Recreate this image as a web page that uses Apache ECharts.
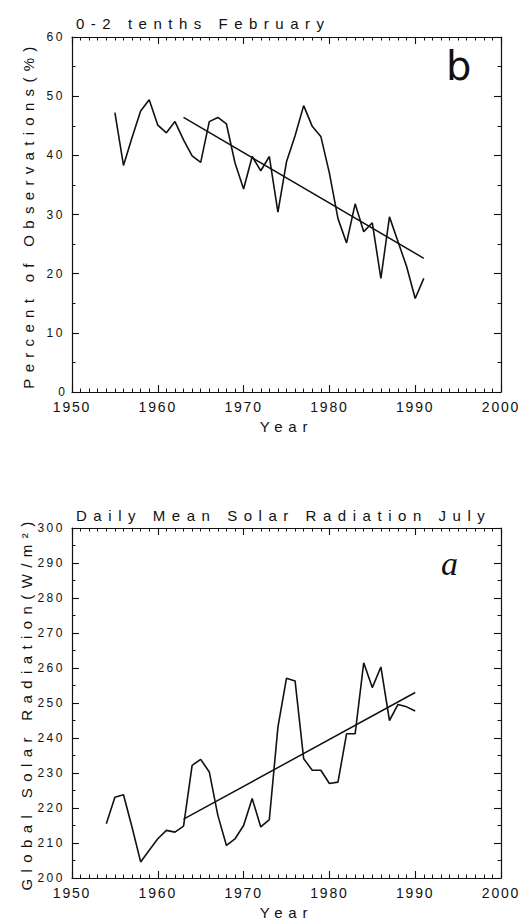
<!DOCTYPE html>
<html><head><meta charset="utf-8">
<script src="https://cdn.jsdelivr.net/npm/echarts@6/dist/echarts.min.js"></script>
<style>html,body{margin:0;padding:0;background:#fff}#c{width:525px;height:920px}</style>
</head><body><div id="c"></div>
<script>
// ---- data ----
const febYears = [1955,1956,1957,1958,1959,1960,1961,1962,1963,1964,1965,1966,1967,1968,1969,1970,1971,1972,1973,1974,1975,1976,1977,1978,1979,1980,1981,1982,1983,1984,1985,1986,1987,1988,1989,1990,1991];
const febPct = [47.2,38.3,43.0,47.5,49.4,45.1,43.8,45.7,42.6,39.9,38.8,45.7,46.4,45.3,38.7,34.3,39.8,37.4,39.8,30.4,38.9,43.3,48.4,44.9,43.2,37.0,29.3,25.2,31.8,27.1,28.6,19.2,29.6,25.4,21.2,15.8,19.2];
const febTrendYears = [1963,1991];
const febTrendPct = [46.4,22.6];

const julYears = [1954,1955,1956,1957,1958,1959,1960,1961,1962,1963,1964,1965,1966,1967,1968,1969,1970,1971,1972,1973,1974,1975,1976,1977,1978,1979,1980,1981,1982,1983,1984,1985,1986,1987,1988,1989,1990];
const julRad = [215.5,223.1,223.8,214.5,204.6,207.9,211.2,213.6,213.1,214.8,232.2,233.9,230.3,217.9,209.3,211.2,215.0,222.7,214.6,216.7,243.1,257.1,256.3,234.1,230.8,230.8,227.0,227.4,241.2,241.2,261.5,254.4,260.3,245.0,249.6,248.9,247.7];
const julTrendYears = [1963,1990];
const julTrendRad = [216.8,253.0];

const yearRange = [1950,2000];
const febRange = [0,60];
const julRange = [200,300];

const titleFeb = '0-2 tenths February';
const titleJul = 'Daily Mean Solar Radiation July';
const yNameFeb = 'Percent of Observations(%)';
const yNameJul = 'Global Solar Radiation(W/m²)';
const xName = 'Year';

// ---- helpers ----
const zip = (xs, ys) => xs.map((x, i) => [x, ys[i]]);
const INK = '#111';
const FONT = 'Liberation Sans';

function xAxis(gi, pos, main) {
  return {
    type: 'value', gridIndex: gi, position: pos,
    min: yearRange[0], max: yearRange[1], interval: 10,
    axisLine: { show: true, onZero: false, lineStyle: { color: INK, width: 1.2 } },
    axisTick: { show: true, inside: true, length: 7, lineStyle: { color: INK, width: 1.1 } },
    minorTick: { show: true, splitNumber: 10, length: 3.5, lineStyle: { color: INK, width: 1 } },
    splitLine: { show: false }, minorSplitLine: { show: false },
    axisLabel: { show: main, margin: 8, color: INK, fontFamily: FONT, fontSize: 14, showMinLabel: true, showMaxLabel: true, hideOverlap: false,
      formatter: v => String(v) },
    name: main ? xName : '', nameLocation: 'middle', nameGap: 27,
    nameTextStyle: { color: INK, fontFamily: FONT, fontSize: 15 },
    silent: true
  };
}
function yAxis(gi, pos, range, main, name) {
  return {
    type: 'value', gridIndex: gi, position: pos,
    min: range[0], max: range[1], interval: 10,
    axisLine: { show: true, onZero: false, lineStyle: { color: INK, width: 1.2 } },
    axisTick: { show: true, inside: true, length: 7, lineStyle: { color: INK, width: 1.1 } },
    minorTick: { show: true, splitNumber: 2, length: 3.5, lineStyle: { color: INK, width: 1 } },
    splitLine: { show: false }, minorSplitLine: { show: false },
    axisLabel: { show: main, margin: 7, color: INK, fontFamily: FONT, fontSize: 12, showMinLabel: true, showMaxLabel: true, hideOverlap: false,
      formatter: v => String(v) },
    name: main ? name : '', nameLocation: 'middle', nameGap: 36,
    nameTextStyle: { color: INK, fontFamily: FONT, fontSize: 15 },
    silent: true
  };
}
function lineSeries(xi, yi, data, w) {
  return { type: 'line', xAxisIndex: xi, yAxisIndex: yi, data: data, symbol: 'none', silent: true,
    lineStyle: { color: INK, width: w }, z: 3 };
}

const option = {
  animation: false,
  backgroundColor: '#fff',
  title: [
    { text: titleFeb, left: 71, top: 11, textStyle: { color: INK, fontFamily: FONT, fontSize: 15, fontWeight: 'normal' } },
    { text: titleJul, left: 71, top: 503, textStyle: { color: INK, fontFamily: FONT, fontSize: 15, fontWeight: 'normal' } }
  ],
  grid: [
    { left: 72, top: 37, width: 429, height: 355, outerBoundsMode: 'none', containLabel: false },
    { left: 72, top: 528, width: 429, height: 350, outerBoundsMode: 'none', containLabel: false }
  ],
  xAxis: [ xAxis(0, 'bottom', true), xAxis(0, 'top', false), xAxis(1, 'bottom', true), xAxis(1, 'top', false) ],
  yAxis: [ yAxis(0, 'left', febRange, true, yNameFeb), yAxis(0, 'right', febRange, false, ''),
           yAxis(1, 'left', julRange, true, yNameJul), yAxis(1, 'right', julRange, false, '') ],
  series: [
    lineSeries(0, 0, zip(febYears, febPct), 1.6),
    lineSeries(0, 0, zip(febTrendYears, febTrendPct), 1.5),
    lineSeries(2, 2, zip(julYears, julRad), 1.6),
    lineSeries(2, 2, zip(julTrendYears, julTrendRad), 1.5)
  ],
  graphic: [
    { type: 'text', left: 446, top: 46, silent: true, style: { text: 'b', fill: INK, font: 'normal 40px "DejaVu Sans"' } },
    { type: 'text', left: 441, top: 546, silent: true, style: { text: 'a', fill: INK, font: 'italic 34px "Liberation Serif"' } }
  ]
};

const chart = echarts.init(document.getElementById('c'), null, { renderer: 'svg', width: 525, height: 920 });
chart.setOption(option);

// widen letter spacing to mimic the plotter lettering
function applySpacing() {
  document.querySelectorAll('#c svg text').forEach(t => {
    const s = t.textContent; const n = s.length; if (n < 2) return;
    const fs = parseFloat(getComputedStyle(t).fontSize);
    let pitch;
    if (fs >= 15) pitch = 13.4; else if (fs >= 14) pitch = 9.6; else pitch = 9.2;
    const w = t.getComputedTextLength();
    const sp = Math.max(0, (pitch * n - w) / n);
    t.setAttribute('letter-spacing', sp.toFixed(2));
  });
}
applySpacing();
</script>
</body></html>
